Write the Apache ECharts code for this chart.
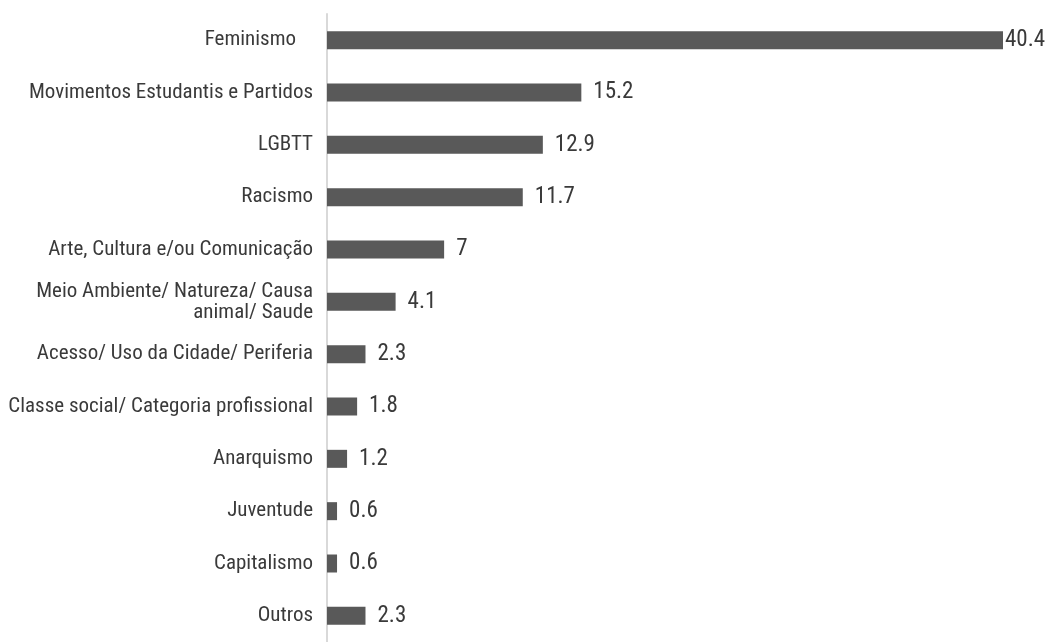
<!DOCTYPE html>
<html>
<head>
<meta charset="utf-8">
<script src="https://cdn.jsdelivr.net/npm/echarts@6/dist/echarts.min.js"></script>
<style>
  html, body { margin: 0; padding: 0; background: #fff; }
  #chart { width: 1049px; height: 642px; }
</style>
</head>
<body>
<div id="chart"></div>
<script>
// categories top to bottom
var categories = [
    'Feminismo',
    'Movimentos Estudantis e Partidos',
    'LGBTT',
    'Racismo',
    'Arte, Cultura e/ou Comunicação',
    'Meio Ambiente/ Natureza/ Causa\nanimal/ Saude',
    'Acesso/ Uso da Cidade/ Periferia',
    'Classe social/ Categoria profissional',
    'Anarquismo',
    'Juventude',
    'Capitalismo',
    'Outros'
];
var values = [40.4, 15.2, 12.9, 11.7, 7, 4.1, 2.3, 1.8, 1.2, 0.6, 0.6, 2.3];

var font = '"Liberation Sans Narrow", "Roboto Condensed", "Liberation Sans", sans-serif';

var chart = echarts.init(document.getElementById('chart'));

var yData = categories.map(function (c, i) {
    if (i === 0) {
        // the source label carries trailing spaces and sits a bit low
        return {value: c, textStyle: {padding: [6, 17, 0, 0]}};
    }
    return c;
});

var barData = values.map(function (v, i) {
    if (i === 0) {
        return {value: v, label: {distance: 2}};
    }
    return v;
});

chart.setOption({
    animation: false,
    grid: {
        left: 327,
        top: 14,
        width: 676,
        height: 633
    },
    xAxis: {
        type: 'value',
        min: 0,
        max: 40.4,
        show: false
    },
    yAxis: {
        type: 'category',
        inverse: true,
        data: yData,
        axisLine: {show: true, lineStyle: {color: '#d9d9d9', width: 2}},
        axisTick: {show: false},
        axisLabel: {
            color: '#3a3a3a',
            fontFamily: font,
            fontSize: 21,
            lineHeight: 21,
            margin: 14,
            align: 'right'
        }
    },
    series: [{
        type: 'bar',
        data: barData,
        barWidth: 18,
        itemStyle: {color: '#595959'},
        label: {
            show: true,
            position: 'right',
            distance: 12,
            color: '#3a3a3a',
            fontFamily: font,
            fontSize: 23,
            offset: [0, 0]
        }
    }]
});
</script>
</body>
</html>
